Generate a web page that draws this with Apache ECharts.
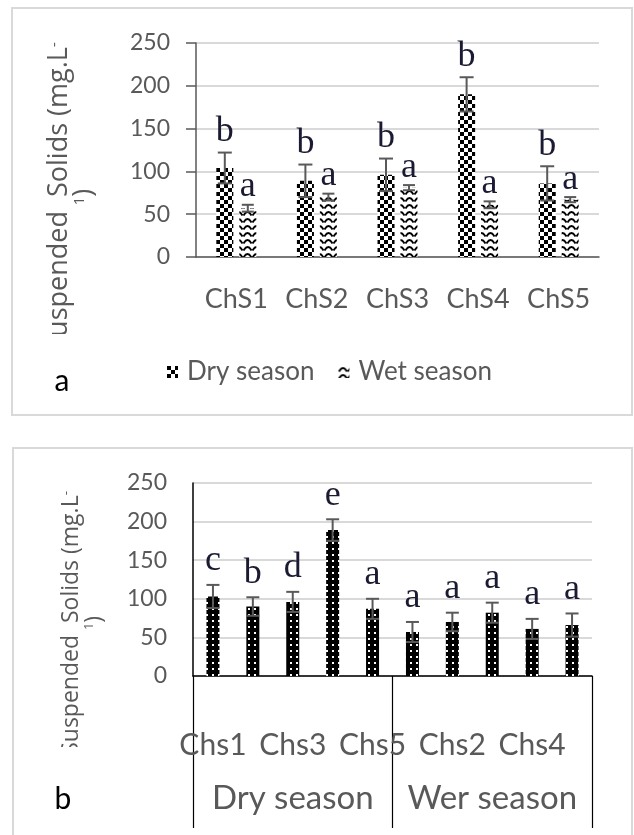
<!DOCTYPE html>
<html><head><meta charset="utf-8">
<script src="https://cdn.jsdelivr.net/npm/echarts@6/dist/echarts.min.js"></script>
<style>html,body{margin:0;padding:0;background:#fff}#c{width:634px;height:835px}</style>
</head><body><div id="c"></div>
<script>
// ---- data ----
const categoriesTop = ['ChS1', 'ChS2', 'ChS3', 'ChS4', 'ChS5'];
const dryTop = [104, 89, 96, 190, 86];
const dryTopErr = [18, 19, 19, 20, 20];
const wetTop = [57, 70, 81, 61, 67];
const wetTopErr = [4, 4, 3, 4, 3];
const dryTopLetters = ['b', 'b', 'b', 'b', 'b'];
const wetTopLetters = ['a', 'a', 'a', 'a', 'a'];
const legendNames = ['Dry season', 'Wet season'];

const categoriesBottom = ['Chs1', 'Chs2', 'Chs3', 'Chs4', 'Chs5', 'Chs1', 'Chs2', 'Chs3', 'Chs4', 'Chs5'];
const seasonGroups = ['Dry season', 'Wer season'];
const valuesBottom = [103, 90, 96, 189, 87, 57, 70, 82, 61, 66];
const errBottom = [15, 12, 13, 14, 13, 13, 12, 13, 13, 15];
const lettersBottom = ['c', 'b', 'd', 'e', 'a', 'a', 'a', 'a', 'a', 'a'];

const yMin = 0, yMax = 250, yStep = 50;
const yTitleMain = 'Suspended  Solids (mg.L';

// ---- styles ----
const SANS = "Lato, 'Open Sans', sans-serif";
const GRAY = '#595959';
const GRID = '#d9d9d9';
const LETTER = '#1a1a33';

function tile(w, h, draw) {
  const c = document.createElement('canvas');
  c.width = w; c.height = h;
  draw(c.getContext('2d'));
  return c;
}
const checker = tile(8, 8, g => {
  g.fillStyle = '#fff'; g.fillRect(0, 0, 8, 8);
  g.fillStyle = '#000'; g.fillRect(0, 0, 4, 4); g.fillRect(4, 4, 4, 4);
});
const wave = tile(9, 7, g => {
  g.fillStyle = '#fff'; g.fillRect(0, 0, 9, 7);
  g.strokeStyle = '#000'; g.lineWidth = 1.8;
  g.beginPath(); g.moveTo(0.5, 5.5); g.quadraticCurveTo(4.5, -1.5, 8.5, 5.5); g.stroke();
});
const dots = tile(6, 6, g => {
  g.fillStyle = '#000'; g.fillRect(0, 0, 6, 6);
  g.fillStyle = '#fff'; g.fillRect(2, 2, 2, 2);
});

function errRender(letters, offset, cap, lift) {
  return function (params, api) {
    const i = api.value(0), v = api.value(1), e = api.value(2);
    const top = api.coord([i, v + e]);
    const bot = api.coord([i, v - e]);
    const x = top[0] + offset;
    const hw = cap / 2;
    const st = { stroke: GRAY, lineWidth: 2 };
    return {
      type: 'group',
      children: [
        { type: 'line', shape: { x1: x, y1: top[1], x2: x, y2: bot[1] }, style: st },
        { type: 'line', shape: { x1: x - hw, y1: top[1], x2: x + hw, y2: top[1] }, style: st },
        { type: 'line', shape: { x1: x - hw, y1: bot[1], x2: x + hw, y2: bot[1] }, style: st },
        { type: 'text', x: x, y: top[1] - lift,
          style: { text: letters[params.dataIndex], fontSize: 36, fontFamily: "'Liberation Serif', serif",
                   fill: LETTER, align: 'center', verticalAlign: 'bottom' } }
      ]
    };
  };
}

function titleText(size, lh) {
  return {
    text: '{m|' + yTitleMain + '}{s|-}\n{s|1}{m|)}', align: 'center', verticalAlign: 'middle',
    rich: { m: { fontSize: size, fontFamily: 'Open Sans', fill: GRAY, lineHeight: lh },
            s: { fontSize: Math.round(size * 0.55), fontFamily: 'Open Sans', fill: GRAY, lineHeight: lh, verticalAlign: 'top' } }
  };
}

const chart = echarts.init(document.getElementById('c'), null, { renderer: 'canvas' });
chart.setOption({
  animation: false,
  backgroundColor: '#fff',
  grid: [
    { left: 196, top: 43, width: 403, height: 214 },
    { left: 193, top: 483, width: 399, height: 193 }
  ],
  legend: {
    data: legendNames,
    left: 162, top: 354,
    icon: 'rect', itemWidth: 11, itemHeight: 12, itemGap: 24,
    textStyle: { fontSize: 26, fontFamily: SANS, color: GRAY, padding: [0, 0, 0, 4] }
  },
  xAxis: [
    { type: 'category', gridIndex: 0, data: categoriesTop,
      axisLine: { lineStyle: { color: GRAY, width: 1.5 } },
      axisTick: { length: 10, lineStyle: { color: GRAY, width: 1.5 } },
      axisLabel: { interval: 0, fontSize: 27, fontFamily: SANS, color: GRAY, margin: 29 } },
    { type: 'category', gridIndex: 1, data: categoriesBottom,
      axisLine: { lineStyle: { color: '#000', width: 1.5 } },
      axisTick: { show: false },
      axisLabel: { interval: 1, fontSize: 30, fontFamily: SANS, color: GRAY, margin: 54 } },
    { type: 'category', gridIndex: 1, data: seasonGroups, position: 'bottom',
      axisLine: { show: false },
      axisTick: { show: true, length: 152, lineStyle: { color: '#000', width: 1.2 } },
      axisLabel: { interval: 0, fontSize: 33, fontFamily: SANS, color: GRAY, margin: 106 } }
  ],
  yAxis: [
    { type: 'value', gridIndex: 0, min: yMin, max: yMax, interval: yStep,
      axisLine: { show: true, lineStyle: { color: GRAY, width: 1.5 } },
      axisTick: { show: true, length: 10, lineStyle: { color: GRAY, width: 1.5 } },
      splitLine: { lineStyle: { color: GRID, width: 2 } },
      axisLabel: { fontSize: 23, fontFamily: SANS, color: GRAY, margin: 26 } },
    { type: 'value', gridIndex: 1, min: yMin, max: yMax, interval: yStep,
      axisLine: { show: true, lineStyle: { color: '#000', width: 1.5 } },
      axisTick: { show: false },
      splitLine: { lineStyle: { color: GRID, width: 2 } },
      axisLabel: { fontSize: 23, fontFamily: SANS, color: GRAY, margin: 26 } }
  ],
  series: [
    { name: legendNames[0], type: 'bar', xAxisIndex: 0, yAxisIndex: 0, data: dryTop,
      barWidth: 17, barGap: '35%', itemStyle: { color: { image: checker, repeat: 'repeat' } } },
    { name: legendNames[1], type: 'bar', xAxisIndex: 0, yAxisIndex: 0, data: wetTop,
      barWidth: 17, barGap: '35%', itemStyle: { color: { image: wave, repeat: 'repeat' } } },
    { type: 'custom', xAxisIndex: 0, yAxisIndex: 0, z: 10,
      renderItem: errRender(dryTopLetters, -11.5, 14, 3),
      encode: { x: 0, y: 1 },
      data: dryTop.map((v, i) => [i, v, dryTopErr[i]]) },
    { type: 'custom', xAxisIndex: 0, yAxisIndex: 0, z: 10,
      renderItem: errRender(wetTopLetters, 11.5, 12, 0),
      encode: { x: 0, y: 1 },
      data: wetTop.map((v, i) => [i, v, wetTopErr[i]]) },
    { type: 'bar', xAxisIndex: 1, yAxisIndex: 1, data: valuesBottom,
      barWidth: 13, itemStyle: { color: { image: dots, repeat: 'repeat' } } },
    { type: 'custom', xAxisIndex: 1, yAxisIndex: 1, z: 10,
      renderItem: errRender(lettersBottom, 0, 13, 6),
      encode: { x: 0, y: 1 },
      data: valuesBottom.map((v, i) => [i, v, errBottom[i]]) }
  ],
  graphic: [
    { type: 'rect', z: -10, shape: { x: 12, y: 8, width: 620, height: 407 },
      style: { fill: 'none', stroke: GRID, lineWidth: 2 } },
    { type: 'rect', z: -10, shape: { x: 13, y: 448, width: 619, height: 400 },
      style: { fill: 'none', stroke: GRID, lineWidth: 2 } },
    { type: 'text', x: 72, y: 197, rotation: Math.PI / 2, style: titleText(27, 25) },
    { type: 'text', x: 83, y: 623, rotation: Math.PI / 2, style: titleText(23, 23) },
    { type: 'rect', z: 50, shape: { x: 40, y: 334, width: 40, height: 22 }, style: { fill: '#fff' } },
    { type: 'rect', z: 50, shape: { x: 50, y: 747, width: 40, height: 22 }, style: { fill: '#fff' } },
    { type: 'text', x: 62, y: 381,
      style: { text: 'a', fontSize: 30, fontFamily: SANS, fill: '#000', align: 'center', verticalAlign: 'middle' } },
    { type: 'text', x: 63, y: 799,
      style: { text: 'b', fontSize: 30, fontFamily: SANS, fill: '#000', align: 'center', verticalAlign: 'middle' } }
  ]
});
</script>
</body></html>
